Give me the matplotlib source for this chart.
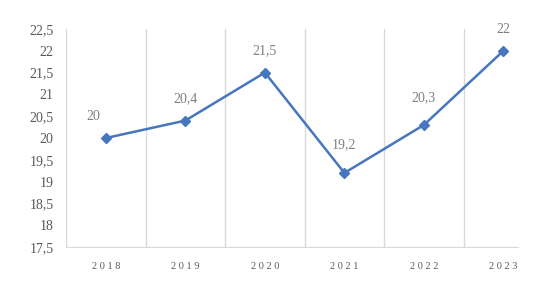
import matplotlib
matplotlib.use("Agg")
from matplotlib import pyplot as plt
import numpy as np

years = ['2018', '2019', '2020', '2021', '2022', '2023']
values = [20, 20.4, 21.5, 19.2, 20.3, 22]
labels = ['20', '20,4', '21,5', '19,2', '20,3', '22']
yticks = [17.5, 18, 18.5, 19, 19.5, 20, 20.5, 21, 21.5, 22, 22.5]

plt.rcParams['font.family'] = ['Liberation Serif', 'DejaVu Serif']

fig = plt.figure(figsize=(5.6, 2.84), dpi=100)
ax = fig.add_axes([0.118, 0.130, 0.852, 0.768])

x = np.arange(len(years))
ax.plot(x, values, color='#4576BF', linewidth=1.8, marker='D', markersize=5)

# label offsets (points), tuned to the original layout
offs = [(-9, 11), (0, 11), (0, 11), (0, 16), (0, 15), (0, 11)]
for i, (v, lab) in enumerate(zip(values, labels)):
    ax.annotate(lab, (i, v), xytext=offs[i], textcoords='offset points',
                ha='center', va='bottom', fontsize=10, color='#7f7f7f')

ax.set_xlim(-0.5, len(years) - 0.5)
ax.set_ylim(17.5, 22.5)
ax.set_yticks(yticks)
ax.set_yticklabels([('%g' % t).replace('.', ',') for t in yticks], fontsize=10, color='#595959')

# category boundaries as vertical grid lines
for b in np.arange(-0.5, len(years) - 1, 1.0):
    ax.axvline(b, color='#d9d9d9', linewidth=1, zorder=0)

ax.set_xticks(x)
ax.set_xticklabels([' '.join(y) for y in years], fontsize=7.5, color='#595959')
ax.tick_params(axis='both', length=0)
ax.tick_params(axis='y', pad=9)
ax.tick_params(axis='x', pad=11)

for s in ['top', 'right', 'left']:
    ax.spines[s].set_visible(False)
ax.spines['bottom'].set_color('#d9d9d9')
ax.spines['bottom'].set_bounds(-0.5, 5.18)

fig.savefig('out.png', dpi=100)
